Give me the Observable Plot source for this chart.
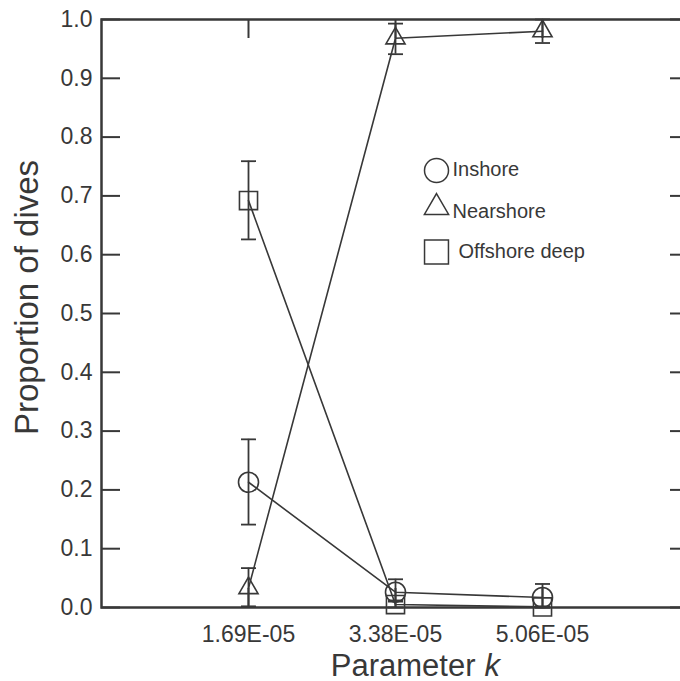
<!DOCTYPE html>
<html>
<head>
<meta charset="utf-8">
<script src="https://cdn.jsdelivr.net/npm/d3@7"></script>
<script src="https://cdn.jsdelivr.net/npm/@observablehq/plot@0.6"></script>
<style>
  html, body { margin: 0; padding: 0; background: white; overflow: hidden; }
  #chart { width: 680px; height: 681px; overflow: hidden; }
  #chart svg { max-width: none; }
</style>
</head>
<body>
<div id="chart"></div>
<script>
// ---- data ----
const categories = ["1.69E-05", "3.38E-05", "5.06E-05"];
const series = ["Inshore", "Nearshore", "Offshore deep"];

const inshore    = [0.213, 0.026, 0.017];
const inshoreLo  = [0.141, 0.012, 0.000];
const inshoreHi  = [0.286, 0.048, 0.040];

const nearshore   = [0.033, 0.968, 0.980];
const nearshoreLo = [0.002, 0.941, 0.960];
const nearshoreHi = [0.067, 0.993, 1.000];

const offshore   = [0.692, 0.005, 0.001];
const offshoreLo = [0.626, 0.000, 0.000];
const offshoreHi = [0.759, 0.010, 0.002];

const yTicks = [0, 0.1, 0.2, 0.3, 0.4, 0.5, 0.6, 0.7, 0.8, 0.9, 1.0];

// ---- table built from arrays ----
const table = [];
[[inshore, inshoreLo, inshoreHi], [nearshore, nearshoreLo, nearshoreHi], [offshore, offshoreLo, offshoreHi]]
  .forEach(([v, lo, hi], s) => categories.forEach((k, i) =>
    table.push({series: series[s], k, value: v[i], lo: lo[i], hi: hi[i]})));

const ink = "#383838";
const symbols = {"Inshore": "circle", "Nearshore": "triangle", "Offshore deep": "square"};
const radii = {"Inshore": 10, "Nearshore": 7.1, "Offshore deep": 10.2};

// horizontal cap symbol for error bars (half-width = r)
const capSymbol = {draw(context, size) { const w = Math.sqrt(size / Math.PI); context.moveTo(-w, 0); context.lineTo(w, 0); }};

const dataDots = series.map(s => Plot.dot(table.filter(d => d.series === s), {
  x: "k", y: "value", symbol: symbols[s], r: radii[s], fill: "none", stroke: ink, strokeWidth: 1.6
}));

const legend = [
  {s: "Inshore", r: 12, dx: 335, dy: 151, tx: 351, ty: 156},
  {s: "Nearshore", r: 9, dx: 335, dy: 188, tx: 351, ty: 198},
  {s: "Offshore deep", r: 13.5, dx: 335, dy: 232.5, tx: 357, ty: 238}
];
const legendMarks = legend.flatMap(L => [
  Plot.dot([L.s], {frameAnchor: "top-left", dx: L.dx, dy: L.dy, symbol: symbols[L.s], r: L.r,
    fill: "none", stroke: ink, strokeWidth: 1.5}),
  Plot.text([L.s], {frameAnchor: "top-left", dx: L.tx, dy: L.ty, text: d => d, textAnchor: "start",
    lineAnchor: "bottom", fontSize: 20, fill: ink})
]);

const chart = Plot.plot({
  width: 680,
  height: 681,
  marginLeft: 101,
  marginRight: -9,
  marginTop: 19,
  marginBottom: 74,
  style: {fontFamily: "'Liberation Sans', Arial, Helvetica, sans-serif", color: ink, background: "white"},
  x: {type: "point", domain: categories, padding: 1},
  y: {domain: [0, 1]},
  marks: [
    Plot.frame({stroke: ink, strokeWidth: 2.5}),
    // inward ticks
    Plot.tickY(yTicks, {y: d => d, insetRight: 569, stroke: ink, strokeWidth: 2}),
    Plot.tickY(yTicks, {y: d => d, insetLeft: 569, stroke: ink, strokeWidth: 2}),
    Plot.ruleX(categories, {x: d => d, insetBottom: 569, stroke: ink, strokeWidth: 2}),
    Plot.ruleX(categories, {x: d => d, insetTop: 569, stroke: ink, strokeWidth: 2}),
    Plot.axisY({ticks: yTicks, tickFormat: ".1f", tickSize: 0, tickPadding: 9, fontSize: 23, label: null}),
    Plot.axisX({tickSize: 0, tickPadding: 18, fontSize: 23, label: null}),
    // error bars
    Plot.ruleX(table, {x: "k", y1: "lo", y2: "hi", stroke: ink, strokeWidth: 1.8}),
    Plot.dot(table, {x: "k", y: "hi", symbol: capSymbol, r: 7.5, fill: "none", stroke: ink, strokeWidth: 1.8}),
    Plot.dot(table, {x: "k", y: "lo", symbol: capSymbol, r: 7.5, fill: "none", stroke: ink, strokeWidth: 1.8}),
    // lines
    Plot.line(table, {x: "k", y: "value", z: "series", stroke: ink, strokeWidth: 1.6}),
    ...dataDots,
    ...legendMarks,
    // axis titles
    Plot.text(["Proportion of dives"], {frameAnchor: "left", dx: -74, dy: -16, rotate: -90,
      text: d => d, fontSize: 33, fill: ink, textAnchor: "middle", lineAnchor: "middle"}),
    Plot.text(["Parameter"], {frameAnchor: "bottom-left", dx: 374, dy: 68, text: d => d,
      textAnchor: "end", lineAnchor: "bottom", fontSize: 31, fill: ink}),
    Plot.text(["k"], {frameAnchor: "bottom-left", dx: 383, dy: 68, text: d => d,
      textAnchor: "start", lineAnchor: "bottom", fontSize: 31, fontStyle: "italic", fill: ink})
  ]
});
document.getElementById("chart").appendChild(chart);
</script>
</body>
</html>
